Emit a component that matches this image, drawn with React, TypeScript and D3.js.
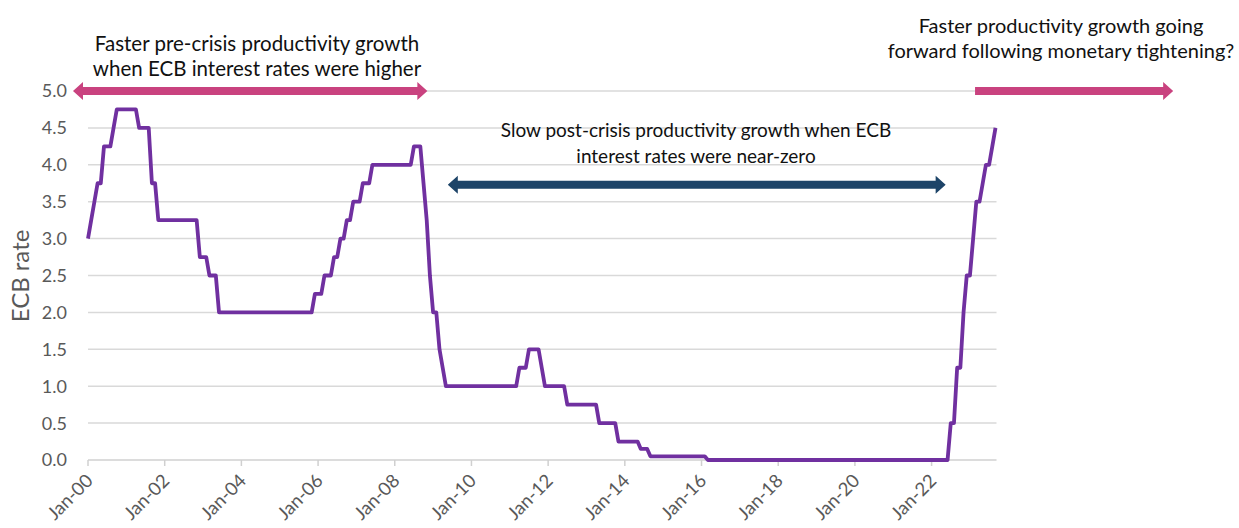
import React from 'react';
import * as d3 from 'd3';

// ECB main refinancing rate, month-end values, one array per calendar year
const rates2000 = [3.0, 3.25, 3.5, 3.75, 3.75, 4.25, 4.25, 4.25, 4.5, 4.75, 4.75, 4.75];
const rates2001 = [4.75, 4.75, 4.75, 4.75, 4.5, 4.5, 4.5, 4.5, 3.75, 3.75, 3.25, 3.25];
const rates2002 = [3.25, 3.25, 3.25, 3.25, 3.25, 3.25, 3.25, 3.25, 3.25, 3.25, 3.25, 2.75];
const rates2003 = [2.75, 2.75, 2.5, 2.5, 2.5, 2.0, 2.0, 2.0, 2.0, 2.0, 2.0, 2.0];
const rates2004 = [2.0, 2.0, 2.0, 2.0, 2.0, 2.0, 2.0, 2.0, 2.0, 2.0, 2.0, 2.0];
const rates2005 = [2.0, 2.0, 2.0, 2.0, 2.0, 2.0, 2.0, 2.0, 2.0, 2.0, 2.0, 2.25];
const rates2006 = [2.25, 2.25, 2.5, 2.5, 2.5, 2.75, 2.75, 3.0, 3.0, 3.25, 3.25, 3.5];
const rates2007 = [3.5, 3.5, 3.75, 3.75, 3.75, 4.0, 4.0, 4.0, 4.0, 4.0, 4.0, 4.0];
const rates2008 = [4.0, 4.0, 4.0, 4.0, 4.0, 4.0, 4.25, 4.25, 4.25, 3.75, 3.25, 2.5];
const rates2009 = [2.0, 2.0, 1.5, 1.25, 1.0, 1.0, 1.0, 1.0, 1.0, 1.0, 1.0, 1.0];
const rates2010 = [1.0, 1.0, 1.0, 1.0, 1.0, 1.0, 1.0, 1.0, 1.0, 1.0, 1.0, 1.0];
const rates2011 = [1.0, 1.0, 1.0, 1.25, 1.25, 1.25, 1.5, 1.5, 1.5, 1.5, 1.25, 1.0];
const rates2012 = [1.0, 1.0, 1.0, 1.0, 1.0, 1.0, 0.75, 0.75, 0.75, 0.75, 0.75, 0.75];
const rates2013 = [0.75, 0.75, 0.75, 0.75, 0.5, 0.5, 0.5, 0.5, 0.5, 0.5, 0.25, 0.25];
const rates2014 = [0.25, 0.25, 0.25, 0.25, 0.25, 0.15, 0.15, 0.15, 0.05, 0.05, 0.05, 0.05];
const rates2015 = [0.05, 0.05, 0.05, 0.05, 0.05, 0.05, 0.05, 0.05, 0.05, 0.05, 0.05, 0.05];
const rates2016 = [0.05, 0.05, 0, 0, 0, 0, 0, 0, 0, 0, 0, 0];
const rates2017 = [0, 0, 0, 0, 0, 0, 0, 0, 0, 0, 0, 0];
const rates2018 = [0, 0, 0, 0, 0, 0, 0, 0, 0, 0, 0, 0];
const rates2019 = [0, 0, 0, 0, 0, 0, 0, 0, 0, 0, 0, 0];
const rates2020 = [0, 0, 0, 0, 0, 0, 0, 0, 0, 0, 0, 0];
const rates2021 = [0, 0, 0, 0, 0, 0, 0, 0, 0, 0, 0, 0];
const rates2022 = [0, 0, 0, 0, 0, 0, 0.5, 0.5, 1.25, 1.25, 2.0, 2.5];
const rates2023 = [2.5, 3.0, 3.5, 3.5, 3.75, 4.0, 4.0, 4.25, 4.5];

const yearlyRates = [
  rates2000, rates2001, rates2002, rates2003, rates2004, rates2005,
  rates2006, rates2007, rates2008, rates2009, rates2010, rates2011,
  rates2012, rates2013, rates2014, rates2015, rates2016, rates2017,
  rates2018, rates2019, rates2020, rates2021, rates2022, rates2023,
];

// Category labels shown every 24 months
const xTickLabels = [
  'Jan-00', 'Jan-02', 'Jan-04', 'Jan-06', 'Jan-08', 'Jan-10',
  'Jan-12', 'Jan-14', 'Jan-16', 'Jan-18', 'Jan-20', 'Jan-22',
];
const yTicks = [0, 0.5, 1, 1.5, 2, 2.5, 3, 3.5, 4, 4.5, 5];

// Annotation text
const leftNote = ['Faster pre-crisis productivity growth', 'when ECB interest rates were higher'];
const middleNote = ['Slow post-crisis productivity growth when ECB', 'interest rates were near-zero'];
const rightNote = ['Faster productivity growth going', 'forward following monetary tightening?'];

const W = 1239;
const H = 528;
const FONT = 'Lato, "Open Sans", sans-serif';
const GREY = '#595959';
const PINK = '#C9427F';
const NAVY = '#1D4468';

type Pt = { i: number; v: number };

function arrowPath(x1: number, x2: number, y: number, leftHead: boolean, rightHead: boolean) {
  const s = 4; // half shaft thickness
  const h = 9; // half head height
  const L = 10; // head length
  const p = d3.path();
  const a = leftHead ? x1 + L : x1;
  const b = rightHead ? x2 - L : x2;
  p.moveTo(a, y - s);
  p.lineTo(b, y - s);
  if (rightHead) {
    p.lineTo(b, y - h);
    p.lineTo(x2, y);
    p.lineTo(b, y + h);
  }
  p.lineTo(b, y + s);
  p.lineTo(a, y + s);
  if (leftHead) {
    p.lineTo(a, y + h);
    p.lineTo(x1, y);
    p.lineTo(a, y - h);
  }
  p.closePath();
  return p.toString();
}

export default function App() {
  const series: Pt[] = yearlyRates.flat().map((v, i) => ({ i, v }));
  const last = series.length - 1;

  const x = d3.scaleLinear().domain([0, last]).range([88, 995.5]);
  const y = d3.scaleLinear().domain([0, 5]).range([460, 91]);

  const line = d3
    .line<Pt>()
    .x((d) => x(d.i))
    .y((d) => y(d.v));

  const tickIdx = xTickLabels.map((_, k) => k * 24);

  return (
    <svg
      width={W}
      height={H}
      style={{ position: 'absolute', left: 0, top: 0, display: 'block', background: '#fff' }}
      fontFamily={FONT}
    >
      {/* horizontal gridlines */}
      {yTicks.map((t) => (
        <line
          key={'g' + t}
          x1={x(0)}
          x2={x(last) + 1}
          y1={y(t)}
          y2={y(t)}
          stroke={t === 0 ? '#d0d0d0' : '#d9d9d9'}
          strokeWidth={1.5}
        />
      ))}
      {/* x-axis tick marks */}
      {tickIdx.map((i) => (
        <line key={'t' + i} x1={x(i)} x2={x(i)} y1={y(0)} y2={y(0) + 6} stroke="#d0d0d0" strokeWidth={1.5} />
      ))}
      {/* y tick labels */}
      {yTicks.map((t) => (
        <text key={'yl' + t} x={67} y={y(t)} dy="0.36em" textAnchor="end" fontSize={18} fill={GREY}>
          {d3.format('.1f')(t)}
        </text>
      ))}
      {/* x tick labels */}
      {tickIdx.map((i, k) => (
        <text
          key={'xl' + i}
          transform={`translate(${x(i) + 6},${y(0) + 22}) rotate(-45)`}
          textAnchor="end"
          fontSize={18.5}
          fill={GREY}
        >
          {xTickLabels[k]}
        </text>
      ))}
      {/* y axis title */}
      <text transform="translate(29,276) rotate(-90)" textAnchor="middle" fontSize={24} fill={GREY}>
        ECB rate
      </text>

      {/* rate line */}
      <path d={line(series) ?? ''} fill="none" stroke="#7030A0" strokeWidth={3.8} strokeLinejoin="round" />

      {/* period arrows */}
      <path d={arrowPath(x(-4.7), x(106.2), y(5), true, true)} fill={PINK} />
      <path d={arrowPath(x(112.6), x(268.4), y(3.73), true, true)} fill={NAVY} />
      <path d={arrowPath(x(277.6), x(339.6), y(5), false, true)} fill={PINK} />

      {/* annotations */}
      {leftNote.map((s, k) => (
        <text key={'ln' + k} x={257} y={51 + k * 25} textAnchor="middle" fontSize={20.5} fill="#111">
          {s}
        </text>
      ))}
      {middleNote.map((s, k) => (
        <text key={'mn' + k} x={696} y={137 + k * 26} textAnchor="middle" fontSize={19} fill="#111">
          {s}
        </text>
      ))}
      {rightNote.map((s, k) => (
        <text key={'rn' + k} x={1061} y={33 + k * 25} textAnchor="middle" fontSize={20} fill="#111">
          {s}
        </text>
      ))}
    </svg>
  );
}
